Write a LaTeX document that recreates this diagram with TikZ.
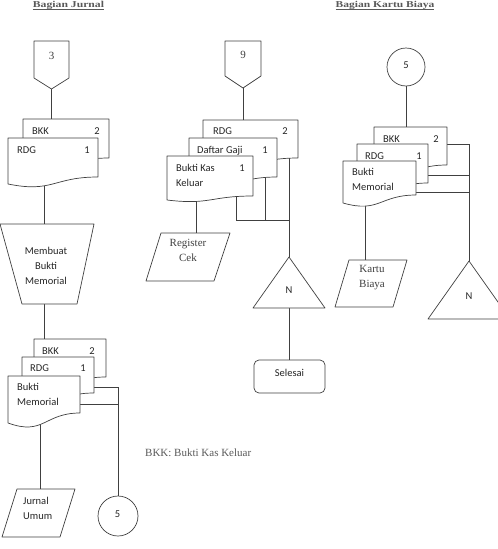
\documentclass[tikz,border=0pt]{standalone}
\usepackage{fontspec}
\setmainfont{Liberation Serif}
\newfontfamily\calfont{Carlito}
\tikzset{
 ln/.style={draw=black!75, line width=0.7pt},
 shp/.style={draw=black!75, line width=0.7pt, fill=white, line join=round},
 lbl/.style={font=\calfont\fontsize{10.5}{15}\selectfont, inner sep=0pt, text=black!85},
 ser/.style={font=\fontsize{11}{15}\selectfont, inner sep=0pt, text=black!75},
 ttl/.style={font=\bfseries\fontsize{9}{11}\selectfont, inner sep=0pt, text=black!65},
 ul/.style={draw=black!65, line width=0.6pt},
}
% document shape: x1, top, x2, right-bottom, left-bottom
\newcommand\fdoc[5]{%
 \path[shp] (#1,#2) -- (#3,#2) -- (#3,#4) .. controls ({(#1+#3)/2},#4) and ({(#1+#3)/2},{#5+1.3*(#5-#4)}) .. (#1,#5) -- cycle;}
\begin{document}
\begin{tikzpicture}[x=1pt,y=-1pt]
\clip (0,0) rectangle (498,549);
% ---------- titles
\node[ttl, anchor=base] (t1) at (68.5,7.5) {\scalebox{1.3}[1]{Bagian Jurnal}};
\node[ttl, anchor=base] (t2) at (385,7.5) {\scalebox{1.28}[1]{Bagian Kartu Biaya}};
\draw[ul] ([yshift=-1.6pt]t1.base west) -- ([yshift=-1.6pt]t1.base east);
\draw[ul] ([yshift=-1.6pt]t2.base west) -- ([yshift=-1.6pt]t2.base east);
% ---------- coordinates
\coordinate (c3p) at (51.5,89);
\coordinate (d1in) at (51.5,125);
\coordinate (d1bot) at (44,178);
\coordinate (trtop) at (44,224);
\coordinate (trbot) at (44,304);
\coordinate (d2in) at (44,345);
\coordinate (d2bot) at (40,418);
\coordinate (jutop) at (40,489);
\coordinate (d2mid) at (90,387);
\coordinate (bus1a) at (118,387);
\coordinate (c5top) at (118,496);
\coordinate (d2fr) at (75,404);
\coordinate (bus1b) at (118,404);
\coordinate (c9p) at (243,88);
\coordinate (m1in) at (243,126);
\coordinate (m3bot) at (196,195);
\coordinate (rctop) at (196,233);
\coordinate (m3x) at (236,190);
\coordinate (busM1) at (236,220);
\coordinate (busM3) at (289,220);
\coordinate (m2x) at (265,170);
\coordinate (busM2) at (265,220);
\coordinate (m1x) at (289,150);
\coordinate (triMtop) at (289,257);
\coordinate (triMbot) at (289,308);
\coordinate (seltop) at (289,360);
\coordinate (c5bbot) at (406,86);
\coordinate (r1in) at (406,133);
\coordinate (r1x) at (440,144);
\coordinate (busR1) at (469,144);
\coordinate (triRtop) at (469,261);
\coordinate (r2x) at (420,175);
\coordinate (busR2) at (469,175);
\coordinate (r3x) at (410,192);
\coordinate (busR3) at (469,192);
\coordinate (r3bot) at (365,200);
\coordinate (kbtop) at (365,260);
% ---------- connectors
\draw[ln] (c3p) -- (d1in);
\draw[ln] (d1bot) -- (trtop);
\draw[ln] (trbot) -- (d2in);
\draw[ln] (d2bot) -- (jutop);
\draw[ln] (d2mid) -- (bus1a) -- (c5top);
\draw[ln] (d2fr) -- (bus1b);
\draw[ln] (c9p) -- (m1in);
\draw[ln] (m3bot) -- (rctop);
\draw[ln] (m3x) -- (busM1) -- (busM3);
\draw[ln] (m2x) -- (busM2);
\draw[ln] (m1x) -- (triMtop);
\draw[ln] (triMbot) -- (seltop);
\draw[ln] (c5bbot) -- (r1in);
\draw[ln] (r1x) -- (busR1) -- (triRtop);
\draw[ln] (r2x) -- (busR2);
\draw[ln] (r3x) -- (busR3);
\draw[ln] (r3bot) -- (kbtop);
% ---------- left column
\path[shp] (34,41) -- (69,41) -- (69,78) -- (51.5,89) -- (34,78) -- cycle;
\node[ser] (n3) at (51.5,56) {3};
\fdoc{23}{119}{109}{158}{165}
\fdoc{8}{138}{98}{177}{184}
\node[lbl, anchor=base west] (a1) at (32,134.5) {BKK};
\node[lbl, anchor=base] (a2) at (97,134.5) {2};
\node[lbl, anchor=base west] (a3) at (17,153.5) {RDG};
\node[lbl, anchor=base] (a4) at (87,153.5) {1};
\path[shp] (0,224) -- (94,224) -- (77,304) -- (22,304) -- cycle;
\node[lbl, align=center] (mbm) at (46,266) {Membuat\\Bukti\\Memorial};
\fdoc{34}{339}{106}{377}{384}
\fdoc{22}{357}{94}{393}{400}
\fdoc{8}{376}{80}{413}{423}
\node[lbl, anchor=base west] (b1) at (42,354.5) {BKK};
\node[lbl, anchor=base] (b2) at (92,354.5) {2};
\node[lbl, anchor=base west] (b3) at (30,371.5) {RDG};
\node[lbl, anchor=base] (b4) at (83,371.5) {1};
\node[lbl, anchor=base west] (b5) at (17,390.5) {Bukti};
\node[lbl, anchor=base west] (b6) at (17,405.5) {Memorial};
\path[shp] (17,489) -- (75,489) -- (60,537) -- (2,537) -- cycle;
\node[lbl, anchor=base west] (ju1) at (23,504.5) {Jurnal};
\node[lbl, anchor=base west] (ju2) at (23,519.5) {Umum};
\path[shp] (118,516) circle[radius=20];
\node[lbl] (c5l) at (117.5,514.5) {5};
% ---------- middle column
\path[shp] (225,41) -- (261,41) -- (261,76) -- (243,88) -- (225,76) -- cycle;
\node[ser] (n9) at (243,55) {9};
\fdoc{203}{120}{298}{158}{165}
\fdoc{189}{138}{277}{177}{184}
\fdoc{167}{156}{253}{196}{200}
\node[lbl, anchor=base west] (m1) at (213,134.5) {RDG};
\node[lbl, anchor=base] (m2) at (285,134.5) {2};
\node[lbl, anchor=base west] (m3) at (197,153.5) {Daftar Gaji};
\node[lbl, anchor=base] (m4) at (265,153.5) {1};
\node[lbl, anchor=base west] (m5) at (176,171.5) {Bukti Kas};
\node[lbl, anchor=base] (m6) at (242,171.5) {1};
\node[lbl, anchor=base west] (m7) at (176,186.5) {Keluar};
\path[shp] (161,233) -- (230,233) -- (214,281) -- (146,281) -- cycle;
\node[ser, align=center] (rc) at (188,250.5) {Register\\Cek};
\path[shp] (289,257) -- (325,308) -- (253,308) -- cycle;
\node[lbl] (nM) at (289,290) {N};
\path[shp, rounded corners=5pt] (254,360) rectangle (325,393);
\node[lbl] (sel) at (289.5,373) {Selesai};
\node[ser, anchor=west, text=black!65] (leg) at (145,453) {BKK: Bukti Kas Keluar};
% ---------- right column
\path[shp] (406,67) circle[radius=19];
\node[lbl] (c5r) at (406,65) {5};
\fdoc{374}{127}{447}{165}{172}
\fdoc{357}{144}{428}{183}{190}
\fdoc{343}{161}{416}{195}{203}
\node[lbl, anchor=base west] (r1) at (383,142.5) {BKK};
\node[lbl, anchor=base] (r2) at (436,142.5) {2};
\node[lbl, anchor=base west] (r3) at (365,159.5) {RDG};
\node[lbl, anchor=base] (r4) at (419,159.5) {1};
\node[lbl, anchor=base west] (r5) at (352,175.5) {Bukti};
\node[lbl, anchor=base west] (r6) at (352,190.5) {Memorial};
\path[shp] (349,260) -- (407,260) -- (393,307) -- (335,307) -- cycle;
\node[ser, align=center] (kb) at (372,277.5) {Kartu\\Biaya};
\path[shp] (469,261) -- (510,319) -- (428,319) -- cycle;
\node[lbl] (nR) at (469,296) {N};
\end{tikzpicture}
\end{document}
